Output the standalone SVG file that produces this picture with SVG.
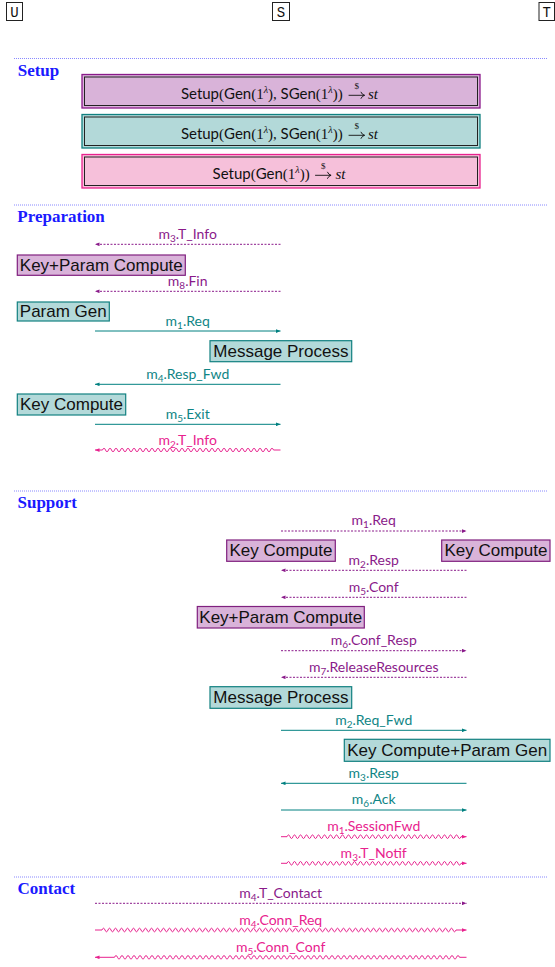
<svg xmlns="http://www.w3.org/2000/svg" width="555" height="967" viewBox="0 0 555 967">
<style>
.lbl{font-family:Lato,"Open Sans",sans-serif;font-size:14px;text-anchor:middle}
.sub{font-size:10px}
.pu{fill:#8a1a8a}.te{fill:#0f8585}.pk{fill:#e8228e}
.node text{font-family:"Liberation Sans",Arial,sans-serif;font-size:17px;fill:#111;text-anchor:middle}
.np rect{fill:#d9b3d9;stroke:#80207f;stroke-width:1.2}
.nt rect{fill:#b3d9d9;stroke:#118080;stroke-width:1.2}
.sec{font-family:"Liberation Serif",serif;font-weight:bold;font-size:17px;fill:#1a1aff}
.sep{stroke:#6b6bff;stroke-width:0.8;stroke-dasharray:1 1;fill:none}
.dot{stroke:#8a1a8a;stroke-dasharray:2 1.5;fill:none;stroke-width:1}
.sol{stroke:#008080;fill:none;stroke-width:1}
.wav{stroke:#e8228e;fill:none;stroke-width:1}
.mt{font-family:"Liberation Serif","DejaVu Serif",serif;font-size:15px;fill:#111}
.sf{font-family:Lato,"Open Sans",sans-serif}
.sup{font-size:10px;font-style:italic}
.dol{font-family:"Liberation Serif",serif;font-size:9px;fill:#111;text-anchor:middle}
.marr{fill:none;stroke:#111;stroke-width:0.9;stroke-linecap:round}
.hd rect{fill:#fff;stroke:#222;stroke-width:1}
.hd text{font-family:"Liberation Mono",monospace;font-size:14px;fill:#111;text-anchor:middle}
.inner{fill:none;stroke:#222;stroke-width:1}
</style>
<defs>
<marker id="aPu" viewBox="0 0 6 5" refX="6" refY="2.5" markerWidth="4.5" markerHeight="4" markerUnits="userSpaceOnUse" orient="auto"><path d="M0,0 L6,2.5 L0,5 z" fill="#8a1a8a"/></marker>
<marker id="aTe" viewBox="0 0 6 5" refX="6" refY="2.5" markerWidth="4.5" markerHeight="4" markerUnits="userSpaceOnUse" orient="auto"><path d="M0,0 L6,2.5 L0,5 z" fill="#008080"/></marker>
<marker id="aPk" viewBox="0 0 6 5" refX="6" refY="2.5" markerWidth="4.5" markerHeight="4" markerUnits="userSpaceOnUse" orient="auto"><path d="M0,0 L6,2.5 L0,5 z" fill="#e8228e"/></marker>
</defs>

<g id="participants" class="hd">
<g id="U"><rect x="6.5" y="2.5" width="16" height="18"/><text x="14.5" y="16.5">U</text></g>
<g id="S"><rect x="272.5" y="2.5" width="17" height="18"/><text x="281" y="16.5">S</text></g>
<g id="T"><rect x="539" y="2.5" width="15.5" height="18"/><text x="546.8" y="16.5">T</text></g>
</g>

<g id="separators">
<line class="sep" x1="14" y1="58.5" x2="547" y2="58.5"/>
<line class="sep" x1="14" y1="205" x2="547" y2="205"/>
<line class="sep" x1="14" y1="491" x2="547" y2="491"/>
<line class="sep" x1="14" y1="877" x2="547" y2="877"/>
</g>

<g id="sections">
<text class="sec" x="17.7" y="75.7">Setup</text>
<text class="sec" x="17.3" y="221.7">Preparation</text>
<text class="sec" x="17.5" y="508">Support</text>
<text class="sec" x="17.5" y="893.5">Contact</text>
</g>

<g id="setup1">
<rect x="82" y="74.5" width="398" height="33.5" fill="#d9b3d9" stroke="#8a1a8a" stroke-width="1.3"/>
<rect class="inner" x="84.5" y="77" width="393" height="28.5"/>
<text class="mt" x="342.7" y="99" text-anchor="end"><tspan class="sf">Setup</tspan>(<tspan class="sf">Gen</tspan>(1<tspan class="sup" dy="-6">λ</tspan><tspan dy="6">), </tspan><tspan class="sf">SGen</tspan>(1<tspan class="sup" dy="-6">λ</tspan><tspan dy="6">))</tspan></text>
<path class="marr" d="M349 95.3 H364.3 M361 92.2 Q362 94.6 364.5 95.3 Q362 96 361 98.4"/>
<text class="dol" x="356.7" y="88.5">$</text>
<text class="mt" x="368" y="99" font-style="italic">st</text>
</g>
<g id="setup2">
<rect x="82" y="114.5" width="398" height="33.5" fill="#b3d9d9" stroke="#118080" stroke-width="1.3"/>
<rect class="inner" x="84.5" y="117" width="393" height="28.5"/>
<text class="mt" x="342.7" y="139" text-anchor="end"><tspan class="sf">Setup</tspan>(<tspan class="sf">Gen</tspan>(1<tspan class="sup" dy="-6">λ</tspan><tspan dy="6">), </tspan><tspan class="sf">SGen</tspan>(1<tspan class="sup" dy="-6">λ</tspan><tspan dy="6">))</tspan></text>
<path class="marr" d="M349 135.3 H364.3 M361 132.2 Q362 134.6 364.5 135.3 Q362 136 361 138.4"/>
<text class="dol" x="356.7" y="128.5">$</text>
<text class="mt" x="368" y="139" font-style="italic">st</text>
</g>
<g id="setup3">
<rect x="82" y="154.5" width="398" height="33.5" fill="#f6c0da" stroke="#e8228e" stroke-width="1.3"/>
<rect class="inner" x="84.5" y="157" width="393" height="28.5"/>
<text class="mt" x="309.7" y="179" text-anchor="end"><tspan class="sf">Setup</tspan>(<tspan class="sf">Gen</tspan>(1<tspan class="sup" dy="-6">λ</tspan><tspan dy="6">))</tspan></text>
<path class="marr" d="M315.5 175.3 H330.8 M327.5 172.2 Q328.5 174.6 331 175.3 Q328.5 176 327.5 178.4"/>
<text class="dol" x="323.2" y="168.5">$</text>
<text class="mt" x="335.5" y="179" font-style="italic">st</text>
</g>

<g id="kpc1" class="node np"><rect x="17.3" y="255" width="168" height="20.3"/><text x="101.3" y="270.5">Key+Param Compute</text></g>
<g id="pg1" class="node nt"><rect x="17.3" y="302" width="92" height="19"/><text x="63.3" y="317.3">Param Gen</text></g>
<g id="mp1" class="node nt"><rect x="210" y="340.7" width="141.7" height="21"/><text x="280.9" y="356.5">Message Process</text></g>
<g id="kc1" class="node nt"><rect x="17.3" y="394" width="108.4" height="21"/><text x="71.5" y="409.8">Key Compute</text></g>
<g id="kc2" class="node np"><rect x="226.7" y="540" width="108.6" height="21.3"/><text x="281" y="556">Key Compute</text></g>
<g id="kc3" class="node np"><rect x="441.7" y="540" width="108.3" height="21.3"/><text x="495.9" y="556">Key Compute</text></g>
<g id="kpc2" class="node np"><rect x="197.3" y="606.5" width="167" height="21.5"/><text x="280.8" y="622.5">Key+Param Compute</text></g>
<g id="mp2" class="node nt"><rect x="210" y="686.7" width="141.7" height="21.6"/><text x="280.9" y="702.8">Message Process</text></g>
<g id="kcpg" class="node nt"><rect x="344.3" y="739.3" width="205.7" height="22"/><text x="447.2" y="755.8">Key Compute+Param Gen</text></g>

<g id="connectors">
<path class="dot" d="M280.5 244.3 H95" marker-end="url(#aPu)"/>
<path class="dot" d="M280.5 291.3 H95" marker-end="url(#aPu)"/>
<path class="sol" d="M95 331 H280.5" marker-end="url(#aTe)"/>
<path class="sol" d="M280.5 384.3 H95" marker-end="url(#aTe)"/>
<path class="sol" d="M95 424.3 H280.5" marker-end="url(#aTe)"/>
<path class="wav" d="M280.5 450 h-7 q-1.5 -3.6 -3 0 t-3 0 t-3 0 t-3 0 t-3 0 t-3 0 t-3 0 t-3 0 t-3 0 t-3 0 t-3 0 t-3 0 t-3 0 t-3 0 t-3 0 t-3 0 t-3 0 t-3 0 t-3 0 t-3 0 t-3 0 t-3 0 t-3 0 t-3 0 t-3 0 t-3 0 t-3 0 t-3 0 t-3 0 t-3 0 t-3 0 t-3 0 t-3 0 t-3 0 t-3 0 t-3 0 t-3 0 t-3 0 t-3 0 t-3 0 t-3 0 t-3 0 t-3 0 t-3 0 t-3 0 t-3 0 t-3 0 t-3 0 t-3 0 t-3 0 t-3 0 t-3 0 t-3 0 t-3 0 t-3 0 t-3 0 t-3 0 L95 450" marker-end="url(#aPk)"/>

<path class="dot" d="M281 531 H466.5" marker-end="url(#aPu)"/>
<path class="dot" d="M466.5 570.3 H281" marker-end="url(#aPu)"/>
<path class="dot" d="M466.5 597.3 H281" marker-end="url(#aPu)"/>
<path class="dot" d="M281 650.7 H466.5" marker-end="url(#aPu)"/>
<path class="dot" d="M466.5 677.3 H281" marker-end="url(#aPu)"/>
<path class="sol" d="M281 730.3 H466.5" marker-end="url(#aTe)"/>
<path class="sol" d="M466.5 783.3 H281" marker-end="url(#aTe)"/>
<path class="sol" d="M281 810 H466.5" marker-end="url(#aTe)"/>
<path class="wav" d="M281 836.7 h6 q1.5 -3.6 3 0 t3 0 t3 0 t3 0 t3 0 t3 0 t3 0 t3 0 t3 0 t3 0 t3 0 t3 0 t3 0 t3 0 t3 0 t3 0 t3 0 t3 0 t3 0 t3 0 t3 0 t3 0 t3 0 t3 0 t3 0 t3 0 t3 0 t3 0 t3 0 t3 0 t3 0 t3 0 t3 0 t3 0 t3 0 t3 0 t3 0 t3 0 t3 0 t3 0 t3 0 t3 0 t3 0 t3 0 t3 0 t3 0 t3 0 t3 0 t3 0 t3 0 t3 0 t3 0 t3 0 t3 0 t3 0 t3 0 t3 0 t3 0 L466.5 836.7" marker-end="url(#aPk)"/>
<path class="wav" d="M281 863.3 h6 q1.5 -3.6 3 0 t3 0 t3 0 t3 0 t3 0 t3 0 t3 0 t3 0 t3 0 t3 0 t3 0 t3 0 t3 0 t3 0 t3 0 t3 0 t3 0 t3 0 t3 0 t3 0 t3 0 t3 0 t3 0 t3 0 t3 0 t3 0 t3 0 t3 0 t3 0 t3 0 t3 0 t3 0 t3 0 t3 0 t3 0 t3 0 t3 0 t3 0 t3 0 t3 0 t3 0 t3 0 t3 0 t3 0 t3 0 t3 0 t3 0 t3 0 t3 0 t3 0 t3 0 t3 0 t3 0 t3 0 t3 0 t3 0 t3 0 t3 0 L466.5 863.3" marker-end="url(#aPk)"/>

<path class="dot" d="M95 903.3 H466.5" marker-end="url(#aPu)"/>
<path class="wav" d="M95 930 h7 q1.5 -3.6 3 0 t3 0 t3 0 t3 0 t3 0 t3 0 t3 0 t3 0 t3 0 t3 0 t3 0 t3 0 t3 0 t3 0 t3 0 t3 0 t3 0 t3 0 t3 0 t3 0 t3 0 t3 0 t3 0 t3 0 t3 0 t3 0 t3 0 t3 0 t3 0 t3 0 t3 0 t3 0 t3 0 t3 0 t3 0 t3 0 t3 0 t3 0 t3 0 t3 0 t3 0 t3 0 t3 0 t3 0 t3 0 t3 0 t3 0 t3 0 t3 0 t3 0 t3 0 t3 0 t3 0 t3 0 t3 0 t3 0 t3 0 t3 0 t3 0 t3 0 t3 0 t3 0 t3 0 t3 0 t3 0 t3 0 t3 0 t3 0 t3 0 t3 0 t3 0 t3 0 t3 0 t3 0 t3 0 t3 0 t3 0 t3 0 t3 0 t3 0 t3 0 t3 0 t3 0 t3 0 t3 0 t3 0 t3 0 t3 0 t3 0 t3 0 t3 0 t3 0 t3 0 t3 0 t3 0 t3 0 t3 0 t3 0 t3 0 t3 0 t3 0 t3 0 t3 0 t3 0 t3 0 t3 0 t3 0 t3 0 t3 0 t3 0 t3 0 t3 0 t3 0 t3 0 t3 0 t3 0 t3 0 t3 0 L466.5 930" marker-end="url(#aPk)"/>
<path class="wav" d="M466.5 957.3 h-7 q-1.5 -3.6 -3 0 t-3 0 t-3 0 t-3 0 t-3 0 t-3 0 t-3 0 t-3 0 t-3 0 t-3 0 t-3 0 t-3 0 t-3 0 t-3 0 t-3 0 t-3 0 t-3 0 t-3 0 t-3 0 t-3 0 t-3 0 t-3 0 t-3 0 t-3 0 t-3 0 t-3 0 t-3 0 t-3 0 t-3 0 t-3 0 t-3 0 t-3 0 t-3 0 t-3 0 t-3 0 t-3 0 t-3 0 t-3 0 t-3 0 t-3 0 t-3 0 t-3 0 t-3 0 t-3 0 t-3 0 t-3 0 t-3 0 t-3 0 t-3 0 t-3 0 t-3 0 t-3 0 t-3 0 t-3 0 t-3 0 t-3 0 t-3 0 t-3 0 t-3 0 t-3 0 t-3 0 t-3 0 t-3 0 t-3 0 t-3 0 t-3 0 t-3 0 t-3 0 t-3 0 t-3 0 t-3 0 t-3 0 t-3 0 t-3 0 t-3 0 t-3 0 t-3 0 t-3 0 t-3 0 t-3 0 t-3 0 t-3 0 t-3 0 t-3 0 t-3 0 t-3 0 t-3 0 t-3 0 t-3 0 t-3 0 t-3 0 t-3 0 t-3 0 t-3 0 t-3 0 t-3 0 t-3 0 t-3 0 t-3 0 t-3 0 t-3 0 t-3 0 t-3 0 t-3 0 t-3 0 t-3 0 t-3 0 t-3 0 t-3 0 t-3 0 t-3 0 t-3 0 t-3 0 t-3 0 t-3 0 L95 957.3" marker-end="url(#aPk)"/>
</g>

<g id="labels">
<text class="lbl pu" x="187.7" y="239">m<tspan class="sub" dy="3">3</tspan><tspan dy="-3">.T_Info</tspan></text>
<text class="lbl pu" x="187.7" y="285.8">m<tspan class="sub" dy="3">8</tspan><tspan dy="-3">.Fin</tspan></text>
<text class="lbl te" x="187.7" y="325.5">m<tspan class="sub" dy="3">1</tspan><tspan dy="-3">.Req</tspan></text>
<text class="lbl te" x="187.7" y="378.5">m<tspan class="sub" dy="3">4</tspan><tspan dy="-3">.Resp_Fwd</tspan></text>
<text class="lbl te" x="187.7" y="418.5">m<tspan class="sub" dy="3">5</tspan><tspan dy="-3">.Exit</tspan></text>
<text class="lbl pk" x="187.7" y="444.5">m<tspan class="sub" dy="3">2</tspan><tspan dy="-3">.T_Info</tspan></text>

<text class="lbl pu" x="373.7" y="525.3">m<tspan class="sub" dy="3">1</tspan><tspan dy="-3">.Req</tspan></text>
<text class="lbl pu" x="373.7" y="564.7">m<tspan class="sub" dy="3">2</tspan><tspan dy="-3">.Resp</tspan></text>
<text class="lbl pu" x="373.7" y="591.7">m<tspan class="sub" dy="3">5</tspan><tspan dy="-3">.Conf</tspan></text>
<text class="lbl pu" x="373.7" y="645">m<tspan class="sub" dy="3">6</tspan><tspan dy="-3">.Conf_Resp</tspan></text>
<text class="lbl pu" x="373.7" y="671.7">m<tspan class="sub" dy="3">7</tspan><tspan dy="-3">.ReleaseResources</tspan></text>
<text class="lbl te" x="373.7" y="724.5">m<tspan class="sub" dy="3">2</tspan><tspan dy="-3">.Req_Fwd</tspan></text>
<text class="lbl te" x="373.7" y="777.5">m<tspan class="sub" dy="3">3</tspan><tspan dy="-3">.Resp</tspan></text>
<text class="lbl te" x="373.7" y="804.3">m<tspan class="sub" dy="3">6</tspan><tspan dy="-3">.Ack</tspan></text>
<text class="lbl pk" x="373.7" y="831">m<tspan class="sub" dy="3">1</tspan><tspan dy="-3">.SessionFwd</tspan></text>
<text class="lbl pk" x="373.7" y="857.7">m<tspan class="sub" dy="3">3</tspan><tspan dy="-3">.T_Notif</tspan></text>

<text class="lbl pu" x="280.7" y="897.8">m<tspan class="sub" dy="3">4</tspan><tspan dy="-3">.T_Contact</tspan></text>
<text class="lbl pk" x="280.7" y="924.5">m<tspan class="sub" dy="3">4</tspan><tspan dy="-3">.Conn_Req</tspan></text>
<text class="lbl pk" x="280.7" y="951.5">m<tspan class="sub" dy="3">5</tspan><tspan dy="-3">.Conn_Conf</tspan></text>
</g>
</svg>
